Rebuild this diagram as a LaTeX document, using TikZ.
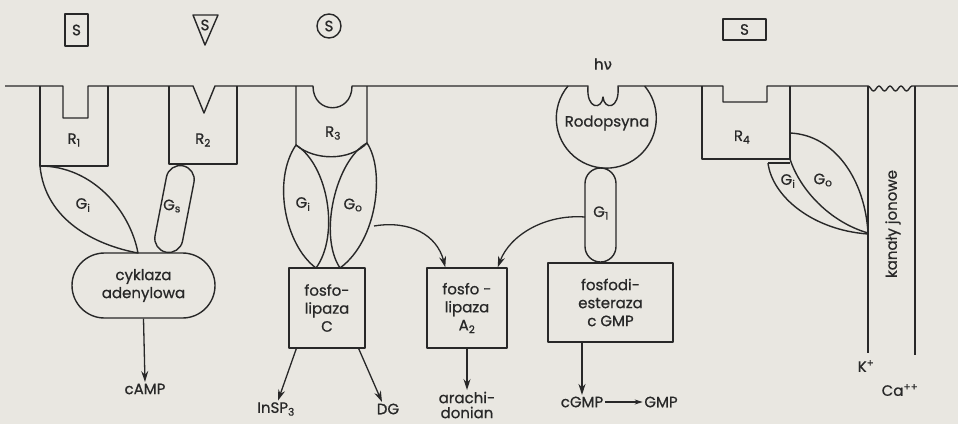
\documentclass[tikz,border=0pt]{standalone}
\usepackage{fontspec}
\setmainfont{Poppins}[FakeBold=0.7]
\newfontfamily\grkfont{DejaVu Sans}[FakeBold=0.7]
\usetikzlibrary{arrows.meta,shapes.misc}
\definecolor{paper}{RGB}{233,231,225}
\definecolor{ink}{RGB}{40,40,40}
\newcommand\labfont{\fontsize{15pt}{18pt}\selectfont}
\begin{document}
\begin{tikzpicture}[x=1pt,y=-1pt,
  color=ink, line width=1.4pt, line join=round,
  every node/.style={text=ink, font=\labfont, inner sep=1pt},
  ln/.style={draw=ink, line width=1.4pt},
  box/.style={draw=ink, line width=1.4pt, align=center, inner sep=0pt},
  arr/.style={draw=ink, line width=1.3pt, -{Stealth[length=11pt,width=7pt]}},
  sarr/.style={draw=ink, line width=1.3pt, -{Stealth[length=8pt,width=5pt]}}
]
\fill[paper] (0,0) rectangle (958,424);
\useasboundingbox (0,0) rectangle (958,424);

% stimuli
\node[box, minimum width=23pt, minimum height=32pt] (s1) at (76.5,30) {S};
\draw[ln] (193,15) -- (218,15) -- (205,45) -- cycle;
\node (s2) at (205,25) {S};
\node[box, circle, minimum size=24pt] (s3) at (329,26) {S};
\node[box, minimum width=43pt, minimum height=21pt] (s4) at (744.5,29.5) {S};
\node (hv) at (603,64) {h{\grkfont ν}};

% membrane
\draw[ln] (5,86) -- (63,86) -- (63,118) -- (88,118) -- (88,86) -- (193,86) -- (204,113) -- (215,86)
  -- (313,86) .. controls (313,115) and (352,115) .. (352,86)
  -- (588,86) .. controls (586,110) and (602,110) .. (603,97) .. controls (604,110) and (620,110) .. (618,86)
  -- (723,86) -- (723,102) -- (767,102) -- (767,86) -- (868,86)
  \foreach \i in {0,...,3} { cos ++(2.75,2.5) sin ++(2.75,2.5) cos ++(2.75,-2.5) sin ++(2.75,-2.5) }
  -- (915,86) -- (958,86);

% receptors
\draw[ln] (40,86) -- (40,166) -- (108,166) -- (108,86);
\node (r1) at (74,140) {R\textsubscript{1}};
\draw[ln] (169,86) -- (169,164) -- (237,164) -- (237,86);
\node (r2) at (203,140) {R\textsubscript{2}};
\draw[ln] (296,86) -- (296,145) .. controls (315,161) and (350,161) .. (367,143) -- (367,86);
\node (r3) at (333,133) {R\textsubscript{3}};
\draw[ln] (702,86) -- (702,159) -- (790,159) -- (790,86);
\node (r4) at (742,137) {R\textsubscript{4}};

% rodopsyna
\draw[ln] (568,86) arc[start angle=220, end angle=-40, radius=50];
\node (rod) at (607,123) {Rodopsyna};

% G proteins under R1/R2
\draw[ln] (40,166) .. controls (92,166) and (130,210) .. (138,253)
          .. controls (95,245) and (45,220) .. cycle;
\node (gi1) at (83,205) {G\textsubscript{i}};
\node[draw=ink, line width=1.4pt, rounded rectangle, minimum width=90pt, minimum height=28pt, rotate=79] (gs) at (174.5,209) {};
\node (gslab) at (172,206) {G\textsubscript{s}};

% G proteins under R3
\draw[ln] (296,145) .. controls (272,180) and (285,245) .. (316,268)
                    .. controls (340,235) and (328,165) .. cycle;
\draw[ln] (367,143) .. controls (385,170) and (378,240) .. (340,268)
                    .. controls (318,235) and (336,160) .. cycle;
\node (gi3) at (303,204) {G\textsubscript{i}};
\node (go3) at (353,205) {G\textsubscript{o}};

% G1 (transducin)
\node[draw=ink, line width=1.4pt, rounded rectangle, minimum width=96pt, minimum height=31pt, rotate=90] (g1) at (600.5,215) {};
\node (g1lab) at (601,213) {G\textsubscript{1}};

% G proteins near R4
\draw[ln] (790,133) .. controls (835,135) and (865,180) .. (868,233);
\draw[ln] (790,159) .. controls (800,190) and (830,222) .. (868,233);
\draw[ln] (768,163) -- (790,163);
\draw[ln] (768,163) .. controls (772,196) and (812,230) .. (868,234);
\node (gi4) at (788,181) {G\textsubscript{i}};
\node (go4) at (823,180) {G\textsubscript{o}};

% ion channel
\draw[ln] (868,86) -- (868,353);
\draw[ln] (915,86) -- (915,355);
\node[rotate=90] (kan) at (893,224) {kanały jonowe};
\node (kp) at (866,366) {K\textsuperscript{+}};
\node (ca) at (900,390) {Ca\textsuperscript{++}};

% effectors
\node[box, rounded rectangle, minimum width=143pt, minimum height=65pt] (cyk) at (143.5,285.5) {cyklaza\\adenylowa};
\node[box, minimum width=76pt, minimum height=80pt] (plc) at (327,308) {fosfo-\\lipaza\\C};
\node[box, minimum width=80pt, minimum height=80pt] (pla) at (467,308) {fosfo -\\lipaza\\A\textsubscript{2}};
\node[box, minimum width=125pt, minimum height=79pt] (pde) at (610.5,302.5) {fosfodi-\\esteraza\\c GMP};

% products
\node (camp) at (145,389) {cAMP};
\node (insp) at (276,409) {InSP\textsubscript{3}};
\node (dg) at (388,409) {DG};
\node[align=center, font=\fontsize{15pt}{15pt}\selectfont] (arach) at (467,405) {arachi-\\donian};
\node (cgmp) at (582,402) {cGMP};
\node (gmp) at (661,402) {GMP};

% arrows
\draw[arr] (cyk.south) -- (camp.north);
\draw[arr] ([xshift=8pt]plc.south west) -- ([xshift=2pt]insp.north);
\draw[arr] ([xshift=-7pt]plc.south east) -- ([xshift=-6pt]dg.north);
\draw[arr] (pla.south) -- (arach.north);
\draw[arr] (pde.south -| cgmp) -- (cgmp.north);
\draw[sarr] (cgmp.east) -- (gmp.west);
\coordinate (goR) at (374,226);
\draw[arr] (goR) .. controls (410,220) and (437,235) .. ([xshift=19pt]pla.north west);
\coordinate (g1L) at (585,217);
\draw[arr] (g1L) .. controls (545,214) and (510,235) .. ([xshift=-10pt]pla.north east);
\end{tikzpicture}
\end{document}
